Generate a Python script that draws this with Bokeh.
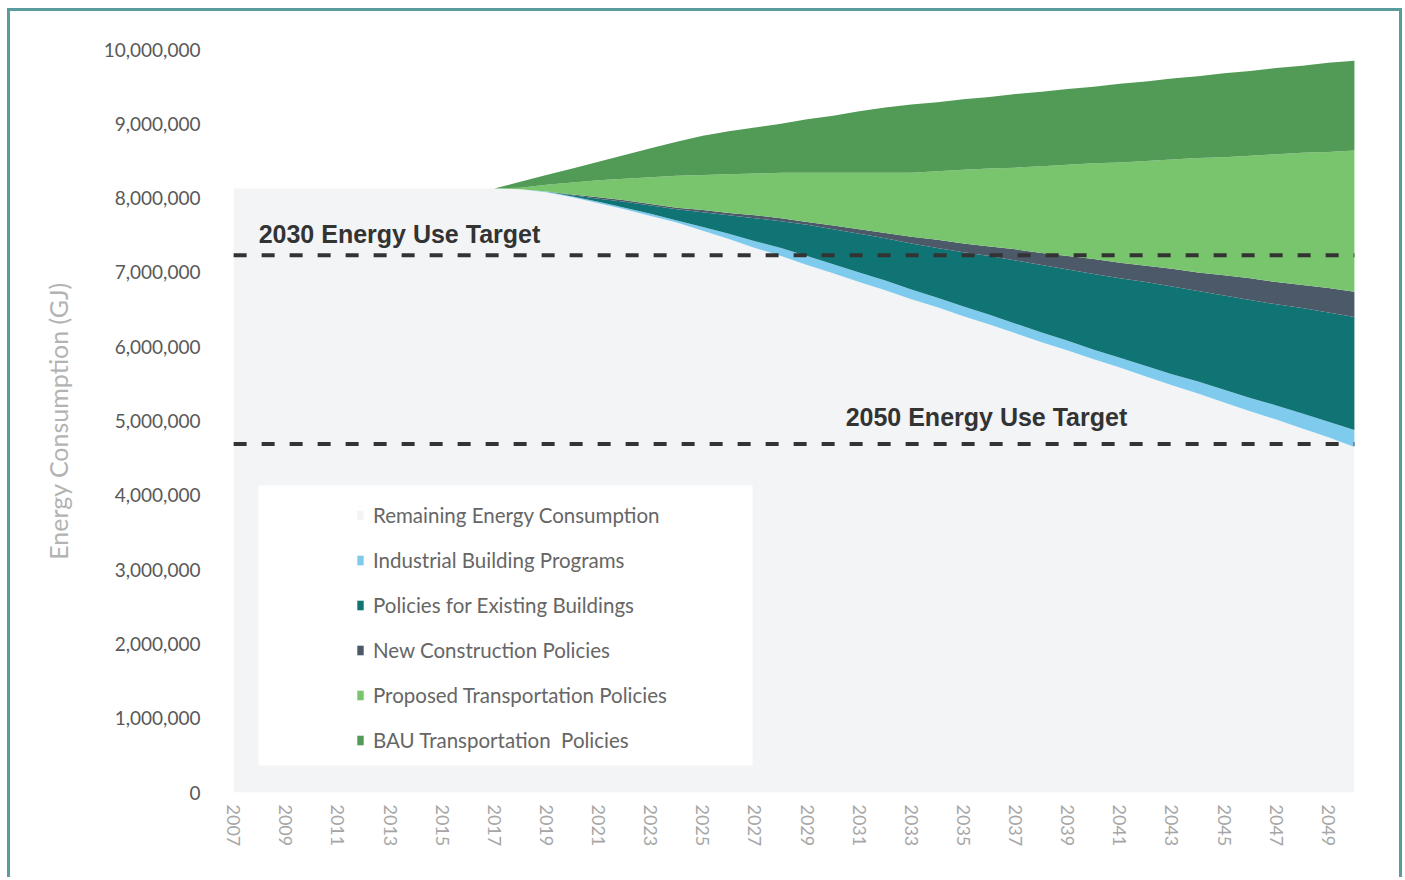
import numpy as np
from bokeh.plotting import figure
from bokeh.models import (ColumnDataSource, Range1d, FixedTicker, NumeralTickFormatter,
                          Legend, LegendItem, Label, BoxAnnotation)
from bokeh.embed import file_html
from bokeh.resources import INLINE

# ---- data (GJ, in millions) ----
years = list(range(2007, 2051))
policy_years = list(range(2017, 2051))

remaining = [8.13, 8.13, 8.13, 8.13, 8.13, 8.13, 8.13, 8.13, 8.13, 8.13,
             8.13, 8.12, 8.08, 8.01, 7.93, 7.85, 7.76, 7.67, 7.56, 7.45,
             7.33, 7.22, 7.10, 6.99, 6.87, 6.76, 6.64, 6.53, 6.41, 6.30,
             6.18, 6.06, 5.95, 5.83, 5.72, 5.60, 5.48, 5.37, 5.25, 5.13,
             5.02, 4.90, 4.78, 4.65]
industrial = [0.00, 0.00, 0.01, 0.01, 0.02, 0.02, 0.03, 0.03, 0.05, 0.07,
              0.09, 0.11, 0.12, 0.12, 0.13, 0.13, 0.13, 0.13, 0.13, 0.13,
              0.13, 0.13, 0.13, 0.13, 0.13, 0.14, 0.15, 0.16, 0.17, 0.18,
              0.19, 0.20, 0.21, 0.23]
existing = [0.00, 0.00, 0.00, 0.02, 0.04, 0.08, 0.11, 0.15, 0.20, 0.25,
            0.31, 0.36, 0.42, 0.47, 0.52, 0.57, 0.62, 0.67, 0.73, 0.79,
            0.85, 0.91, 0.96, 1.02, 1.07, 1.13, 1.18, 1.22, 1.27, 1.32,
            1.36, 1.42, 1.47, 1.52]
new_construction = [0.00, 0.00, 0.00, 0.01, 0.02, 0.02, 0.02, 0.02, 0.03, 0.03,
                    0.04, 0.04, 0.04, 0.05, 0.06, 0.07, 0.09, 0.11, 0.12, 0.13,
                    0.15, 0.16, 0.18, 0.20, 0.21, 0.22, 0.24, 0.25, 0.27, 0.29,
                    0.30, 0.31, 0.33, 0.34]
proposed_transport = [0.00, 0.02, 0.09, 0.16, 0.23, 0.29, 0.36, 0.43, 0.47, 0.52,
                      0.56, 0.61, 0.66, 0.71, 0.76, 0.81, 0.86, 0.92, 0.99, 1.05,
                      1.10, 1.17, 1.23, 1.29, 1.35, 1.41, 1.47, 1.54, 1.59, 1.65,
                      1.72, 1.78, 1.83, 1.90]
bau_transport = [0.00, 0.08, 0.13, 0.19, 0.25, 0.32, 0.39, 0.46, 0.53, 0.58,
                 0.62, 0.66, 0.72, 0.77, 0.83, 0.88, 0.92, 0.93, 0.95, 0.96,
                 0.99, 1.00, 1.02, 1.03, 1.06, 1.07, 1.09, 1.10, 1.13, 1.14,
                 1.16, 1.17, 1.20, 1.21]

target_2030 = 7.23
target_2050 = 4.69

labels = ["Remaining Energy Consumption", "Industrial Building Programs",
          "Policies for Existing Buildings", "New Construction Policies",
          "Proposed Transportation Policies", "BAU Transportation  Policies"]
colors = ["#f2f4f6", "#7fcbee", "#117474", "#4b5968", "#79c56d", "#519b56"]
tick_years = list(range(2007, 2050, 2))

# ---- table ----
M = 1_000_000
pad = len(years) - len(policy_years)
def full(a):
    return np.concatenate([np.zeros(pad), np.array(a)]) * M

src = ColumnDataSource(dict(
    year=years,
    remaining=np.array(remaining) * M,
    industrial=full(industrial),
    existing=full(existing),
    newc=full(new_construction),
    prop=full(proposed_transport),
    bau=full(bau_transport),
))
stackers = ["remaining", "industrial", "existing", "newc", "prop", "bau"]

p = figure(width=1395, height=869, output_backend="svg", toolbar_location=None,
           x_range=Range1d(2006.88, 2050.08), y_range=Range1d(0, 10 * M),
           min_border_left=220, min_border_right=49, min_border_top=38, min_border_bottom=88)
p.styles = {"margin-left": "7px", "margin-top": "8px",
            "border-left": "3px solid #5a9c9e", "border-top": "3px solid #5a9c9e",
            "border-right": "3px solid #5a9c9e"}
p.background_fill_color = "white"
p.border_fill_color = "white"
p.outline_line_color = None
p.grid.visible = False

rs = p.varea_stack(stackers=stackers, x="year", color=colors, source=src)

# target lines
for t in (target_2030, target_2050):
    p.line(x=[years[0], years[-1]], y=[t * M, t * M], line_color="#333333",
           line_width=4, line_dash="13 15")

tfont = "Liberation Sans"
p.add_layout(Label(x=2007.96, y=target_2030 * M, y_offset=7, text="2030 Energy Use Target",
                   text_font=tfont, text_font_style="bold", text_font_size="25px",
                   text_color="#333333"))
p.add_layout(Label(x=2030.48, y=target_2050 * M, y_offset=13, text="2050 Energy Use Target",
                   text_font=tfont, text_font_style="bold", text_font_size="25px",
                   text_color="#333333"))

# axes
yax = p.yaxis[0]
yax.formatter = NumeralTickFormatter(format="0,0")
yax.ticker = FixedTicker(ticks=[i * M for i in range(0, 11)])
yax.axis_line_color = None
yax.major_tick_line_color = None
yax.minor_tick_line_color = None
yax.major_label_standoff = 24
yax.major_label_text_font = "Lato"
yax.major_label_text_font_size = "19px"
yax.major_label_text_color = "#595959"
yax.axis_label = "Energy Consumption (GJ)"
yax.axis_label_text_font = "Lato"
yax.axis_label_text_font_style = "normal"
yax.axis_label_text_font_size = "25px"
yax.axis_label_text_color = "#b3b3b3"
yax.axis_label_standoff = 28

xax = p.xaxis[0]
xax.ticker = FixedTicker(ticks=tick_years)
xax.axis_line_color = None
xax.major_tick_line_color = None
xax.minor_tick_line_color = None
xax.major_label_orientation = "vertical"
xax.major_label_standoff = 6
xax.major_label_text_font = "Lato"
xax.major_label_text_font_size = "18px"
xax.major_label_text_color = "#a6a6a6"

# legend box and legend
p.add_layout(BoxAnnotation(left=245, right=739, top=471, bottom=751,
                           left_units="canvas", right_units="canvas",
                           top_units="canvas", bottom_units="canvas",
                           fill_color="white", fill_alpha=1.0, line_color=None))
items = [LegendItem(label=lab, renderers=[r]) for lab, r in zip(labels, rs)]
leg = Legend(items=items, location=(126, 40), orientation="vertical",
             background_fill_alpha=0, border_line_color=None,
             padding=0, margin=0, spacing=21, label_height=20,
             glyph_width=8, glyph_height=12, label_standoff=9,
             label_text_font="Lato", label_text_font_size="20.5px",
             label_text_color="#666666")
p.add_layout(leg)

open("out.html", "w").write(file_html(p, INLINE))
